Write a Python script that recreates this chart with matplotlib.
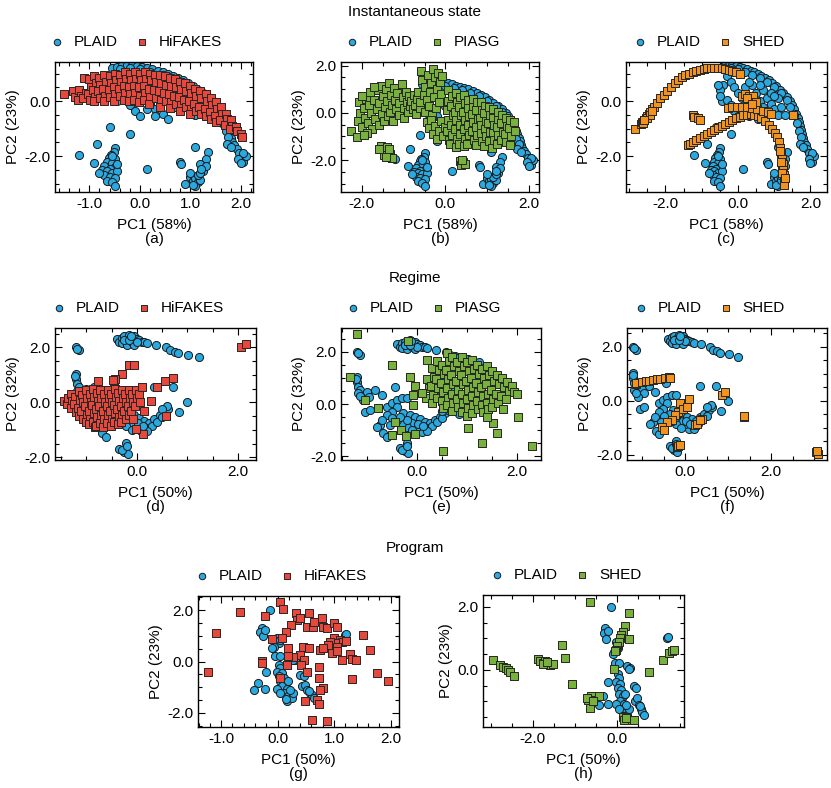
import numpy as np
import matplotlib
matplotlib.use("Agg")
import matplotlib.pyplot as plt
from matplotlib.ticker import MultipleLocator, AutoMinorLocator, FormatStrFormatter

plt.rcParams['font.family'] = ['Liberation Sans', 'DejaVu Sans']
plt.rcParams['font.size'] = 11
plt.rcParams['axes.unicode_minus'] = False

W, H = 831, 788

# colours of the data sets
c_plaid = '#2aa8e0'
c_hifakes = '#e8473b'
c_piasg = '#78b23c'
c_shed = '#f2931d'

# ---------------- Instantaneous state (PC1 58%, PC2 23%) ----------------
plaid_inst = np.array([
    # outer arc
    (-0.55, 1.2), (-0.45, 1.25), (-0.35, 1.3), (-0.25, 1.32), (-0.15, 1.3), (-0.05, 1.28),
    (0.05, 1.25), (0.15, 1.2), (0.25, 1.15), (0.35, 1.1), (0.45, 1.05), (0.55, 1.0),
    (0.65, 0.92), (0.75, 0.85), (0.85, 0.75), (0.95, 0.65), (1.05, 0.55), (1.15, 0.42),
    (1.25, 0.3), (1.35, 0.15), (1.45, 0.0), (1.5, -0.15), (1.55, -0.3), (1.6, -0.45),
    (1.65, -0.6), (1.7, -0.75), (1.72, -0.9), (1.75, -1.05), (1.78, -1.2), (1.8, -1.35),
    (1.83, -1.5), (1.87, -1.6), (1.92, -1.75), (1.97, -1.9), (2.0, -2.05), (2.05, -2.2),
    (2.1, -2.0), (2.05, -1.9), (1.95, -2.1), (2.0, -2.25),
    # second row of the arc
    (-0.4, 1.15), (-0.2, 1.2), (0.0, 1.15), (0.2, 1.05), (0.4, 0.95), (0.6, 0.85),
    (0.8, 0.7), (1.0, 0.5), (1.2, 0.3), (1.35, 0.05), (1.45, -0.2), (1.55, -0.5),
    (1.62, -0.8), (1.7, -1.1), (1.75, -1.3), (1.72, -1.55), (1.8, -1.65),
    # inner band
    (-0.3, 0.9), (-0.2, 0.7), (-0.1, 0.5), (0.0, 0.3), (0.1, 0.1), (0.2, -0.1), (0.3, -0.3),
    (-0.4, 0.6), (-0.5, 0.4), (-0.45, 0.0), (-0.3, 0.05), (-0.2, -0.15), (-0.1, -0.35),
    (0.0, -0.55), (0.15, -0.3), (0.3, -0.55), (0.45, -0.45), (0.55, -0.65), (0.4, -0.2),
    (0.6, 0.0), (0.7, -0.2), (0.8, 0.1), (0.9, -0.1), (1.0, -0.3), (1.1, -0.5), (0.5, 0.3),
    (0.3, 0.2), (0.7, 0.4), (0.9, 0.3), (1.1, 0.1), (1.2, -0.2), (1.3, -0.5), (0.2, 0.5),
    (0.4, 0.6), (-0.55, 0.6), (-0.5, 0.2), (0.3, 0.7), (0.6, 0.6), (1.0, 0.2),
    # isolated points
    (-0.6, -0.95), (-0.2, -1.2), (-0.85, -1.55), (-1.2, -1.95), (-0.9, -2.25), (0.15, -2.45),
    (0.8, -2.2), (0.82, -2.3), (1.1, -1.65), (1.35, -1.85), (1.3, -2.1), (1.2, -2.3), (1.25, -2.55),
    # cluster near PC1 = -0.55
    (-0.5, -1.7), (-0.52, -1.85), (-0.58, -1.95), (-0.62, -2.05), (-0.5, -2.1), (-0.66, -2.2),
    (-0.55, -2.25), (-0.7, -2.35), (-0.5, -2.4), (-0.6, -2.45), (-0.75, -2.5), (-0.65, -2.55),
    (-0.55, -2.6), (-0.45, -2.55), (-0.7, -2.7), (-0.6, -2.75), (-0.5, -2.8), (-0.65, -2.9),
    (-0.55, -2.95), (-0.5, -3.1), (-0.8, -2.6), (-0.45, -2.3), (-0.55, -2.0),
    # cluster near PC1 = 1.1
    (0.9, -3.0), (1.0, -2.75), (1.05, -2.9), (1.1, -2.8), (1.15, -2.95), (1.1, -3.1),
    (1.05, -3.05), (1.2, -2.85), (1.15, -2.7), (1.2, -2.6), (1.0, -2.6), (1.3, -2.35), (1.22, -2.45),
])

hifakes_inst = np.array([
    (-1.5, 0.25), (-1.32, 0.35), (-1.28, 0.15), (-1.2, 0.4), (-1.17, 0.2), (-1.22, 0.05),
    (-1.1, 0.85), (-1.07, 0.3), (-1.12, 0.1), (-1.0, 0.8), (-0.97, 0.5), (-1.03, 0.25), (-0.99, 0.05),
    (-0.9, 0.9), (-0.87, 0.65), (-0.92, 0.4), (-0.88, 0.15), (-0.91, 0.0),
    (-0.8, 0.85), (-0.78, 0.6), (-0.82, 0.35), (-0.79, 0.1),
    (-0.7, 0.95), (-0.68, 0.7), (-0.72, 0.45), (-0.69, 0.2), (-0.71, 0.0),
    (-0.6, 0.9), (-0.58, 0.65), (-0.62, 0.4), (-0.59, 0.15),
    (-0.5, 1.0), (-0.48, 0.75), (-0.52, 0.5), (-0.49, 0.25), (-0.51, 0.0),
    (-0.4, 0.95), (-0.38, 0.7), (-0.42, 0.45), (-0.39, 0.2),
    (-0.3, 1.05), (-0.28, 0.8), (-0.32, 0.55), (-0.29, 0.3), (-0.31, 0.05),
    (-0.2, 1.0), (-0.18, 0.75), (-0.22, 0.5), (-0.19, 0.25), (-0.21, 0.0),
    (-0.1, 1.05), (-0.08, 0.8), (-0.12, 0.55), (-0.09, 0.3), (-0.11, 0.05),
    (0.0, 1.0), (0.02, 0.75), (-0.02, 0.5), (0.01, 0.2), (-0.01, -0.05),
    (0.1, 1.05), (0.12, 0.8), (0.08, 0.55), (0.11, 0.3), (0.09, 0.05),
    (0.2, 1.0), (0.22, 0.75), (0.18, 0.45), (0.21, 0.15), (0.19, -0.1),
    (0.3, 0.95), (0.32, 0.7), (0.28, 0.4), (0.31, 0.1),
    (0.4, 0.95), (0.42, 0.65), (0.38, 0.35), (0.41, 0.05), (0.39, -0.2),
    (0.5, 0.9), (0.52, 0.6), (0.48, 0.3), (0.51, 0.0),
    (0.6, 0.85), (0.62, 0.55), (0.58, 0.25), (0.61, -0.05), (0.59, -0.25),
    (0.7, 0.8), (0.72, 0.5), (0.68, 0.2), (0.71, -0.1),
    (0.8, 0.7), (0.82, 0.45), (0.78, 0.15), (0.81, -0.15), (0.79, -0.35),
    (0.9, 0.65), (0.92, 0.35), (0.88, 0.05), (0.91, -0.2),
    (1.0, 0.55), (1.02, 0.3), (0.98, 0.0), (1.01, -0.3), (0.99, -0.45),
    (1.1, 0.45), (1.12, 0.2), (1.08, -0.1), (1.11, -0.35),
    (1.2, 0.35), (1.22, 0.1), (1.18, -0.2), (1.21, -0.45),
    (1.3, 0.25), (1.32, 0.0), (1.28, -0.3), (1.31, -0.55),
    (1.4, 0.1), (1.42, -0.15), (1.38, -0.4), (1.41, -0.65),
    (1.5, -0.05), (1.52, -0.3), (1.48, -0.55), (1.51, -0.75),
    (1.6, -0.2), (1.62, -0.45), (1.58, -0.7),
    (1.7, -0.45), (1.72, -0.65), (1.68, -0.85),
    (1.8, -0.7), (1.82, -0.9), (1.78, -1.0),
    (1.9, -0.95), (1.92, -1.1), (2.0, -1.2), (2.02, -1.3),
])

piasg_inst = np.array([
    # left lobe
    (-2.27, -0.75), (-2.12, -1.04), (-2.1, -0.35), (-2.05, 0.0), (-2.08, 0.45), (-2.0, -0.6),
    (-1.95, 0.2), (-1.92, -0.2), (-1.9, 0.6), (-1.85, -0.45), (-1.82, 0.35), (-1.8, 0.9),
    (-1.78, 0.0), (-1.75, -0.7), (-1.7, 0.55), (-1.68, -0.25), (-1.65, 0.15), (-1.62, 0.95),
    (-1.6, -0.5), (-1.58, 0.4), (-1.55, 1.15), (-1.52, -0.05), (-1.5, 0.7), (-1.48, -0.35),
    (-1.45, 0.25), (-1.42, 1.0), (-1.4, 0.5), (-1.38, -0.15), (-1.35, 1.25), (-1.33, 0.05),
    (-1.3, 0.75), (-1.28, 0.35), (-1.25, -0.35), (-1.22, 1.05), (-1.2, 0.55), (-1.18, 0.15),
    (-1.15, 0.85), (-1.12, -0.1), (-1.1, 0.4), (-1.05, 1.2), (-1.02, 0.65), (-1.0, 0.2),
    (-0.98, -0.2), (-0.95, 0.9), (-0.92, 0.45), (-0.9, 0.05), (-0.88, 0.7), (-0.85, 0.3),
    (-2.0, 0.7), (-1.88, -0.85), (-1.72, 1.1), (-1.95, -0.95),
    # middle and central peak
    (-0.82, 0.5), (-0.78, 0.15), (-0.75, 0.75), (-0.72, 0.35), (-0.7, -0.05), (-0.68, 0.6),
    (-0.65, 0.9), (-0.62, 0.2), (-0.6, 0.45), (-0.58, 1.75), (-0.55, 1.4), (-0.52, 0.75),
    (-0.5, 0.05), (-0.48, 1.1), (-0.45, 0.55), (-0.42, 1.6), (-0.4, 0.3), (-0.38, 0.9),
    (-0.35, 1.25), (-0.32, -0.1), (-0.3, 1.85), (-0.28, 0.65), (-0.25, 1.5), (-0.22, 0.2),
    (-0.2, 1.0), (-0.18, 1.7), (-0.15, 0.45), (-0.12, 1.3), (-0.1, 0.8), (-0.08, 1.55),
    (-0.45, -0.4), (-0.4, -0.65), (-0.35, -0.3), (-0.3, -0.9), (-0.25, -0.55), (-0.2, -1.1),
    (-0.15, -0.75), (-0.1, -0.35), (-0.05, -1.0), (0.0, -0.6),
    # right mass
    (0.05, 0.95), (0.07, 0.5), (0.03, 0.1), (0.06, -0.3), (0.04, -0.75), (0.08, -1.15),
    (0.15, 0.7), (0.13, 0.3), (0.17, -0.1), (0.14, -0.5), (0.16, -0.95), (0.12, -1.3),
    (0.25, 0.85), (0.27, 0.45), (0.23, 0.05), (0.26, -0.3), (0.24, -0.7), (0.28, -1.1), (0.25, -1.45),
    (0.35, 0.65), (0.33, 0.25), (0.37, -0.1), (0.34, -0.5), (0.36, -0.9), (0.32, -1.3),
    (0.45, 0.75), (0.47, 0.4), (0.43, 0.05), (0.46, -0.3), (0.44, -0.7), (0.48, -1.1), (0.45, -1.4),
    (0.55, 0.55), (0.53, 0.2), (0.57, -0.15), (0.54, -0.5), (0.56, -0.95), (0.52, -1.3),
    (0.65, 0.6), (0.67, 0.25), (0.63, -0.05), (0.66, -0.4), (0.64, -0.75), (0.68, -1.15),
    (0.75, 0.45), (0.73, 0.1), (0.77, -0.25), (0.74, -0.6), (0.76, -0.95), (0.72, -1.35),
    (0.85, 0.45), (0.87, 0.1), (0.83, -0.2), (0.86, -0.5), (0.84, -0.85), (0.88, -1.2),
    (0.95, 0.3), (0.93, 0.0), (0.97, -0.35), (0.94, -0.7), (0.96, -1.0), (0.92, -1.4),
    (1.05, 0.25), (1.07, -0.1), (1.03, -0.45), (1.06, -0.8), (1.04, -1.2),
    (1.15, 0.15), (1.13, -0.2), (1.17, -0.5), (1.14, -0.85), (1.16, -1.15), (1.12, -1.5),
    (1.25, 0.05), (1.27, -0.3), (1.23, -0.6), (1.26, -0.95), (1.24, -1.3),
    (1.35, -0.1), (1.33, -0.45), (1.37, -0.8), (1.34, -1.15),
    (1.45, -0.2), (1.47, -0.55), (1.43, -0.9), (1.46, -1.25),
    (1.55, -0.3), (1.53, -0.65), (1.57, -1.0), (1.54, -1.35),
    (1.65, -0.4), (1.67, -0.75),
    # small clusters
    (-1.55, -1.4), (-1.5, -1.55), (-1.45, -1.7), (-1.38, -1.6), (-1.32, -1.75), (-1.48, -1.8),
    (-1.4, -1.45), (-1.6, -1.55), (-1.28, -1.9), (-1.42, -1.88), (-1.35, -1.55),
    (0.35, -2.05), (0.42, -2.1), (0.38, -2.2), (0.48, -2.15), (0.4, -2.0),
])

shed_inst = np.array([
    # upper arc
    (-2.85, -1.0), (-2.68, -0.82), (-2.64, -0.75), (-2.6, -0.7), (-2.55, -0.6), (-2.5, -0.55),
    (-2.46, -0.47), (-2.42, -0.4), (-2.38, -0.3), (-2.32, -0.2), (-2.24, -0.06), (-2.14, 0.1),
    (-2.05, 0.24), (-1.95, 0.38), (-1.85, 0.52), (-1.75, 0.64), (-1.65, 0.76), (-1.55, 0.86),
    (-1.45, 0.94), (-1.35, 1.0), (-1.25, 1.05), (-1.15, 1.1), (-1.05, 1.14), (-0.95, 1.17),
    (-0.85, 1.19), (-0.75, 1.2), (-0.65, 1.21), (-0.55, 1.2), (-0.45, 1.19), (-0.35, 1.17),
    (-0.25, 1.14), (-0.15, 1.1), (-0.05, 1.05), (0.05, 0.98), (-2.62, -0.78), (-2.52, -0.62),
    (-2.44, -0.52), (-2.36, -0.36), (-2.58, -0.68),
    # small group
    (-1.24, -0.5), (-1.2, -0.58), (-1.1, -0.62), (-1.06, -0.7),
    # lower arc bending down
    (-1.38, -1.6), (-1.33, -1.55), (-1.25, -1.5), (-1.15, -1.42), (-1.05, -1.35), (-0.95, -1.28),
    (-0.85, -1.2), (-0.75, -1.12), (-0.65, -1.05), (-0.55, -0.98), (-0.45, -0.9), (-0.35, -0.82),
    (-0.25, -0.75), (-0.15, -0.68), (-0.05, -0.62), (0.05, -0.57), (0.15, -0.52), (0.25, -0.5),
    (0.35, -0.48), (0.45, -0.5), (0.55, -0.55), (0.65, -0.62), (0.75, -0.72), (0.85, -0.85),
    (0.95, -1.0), (1.02, -1.15), (1.08, -1.3), (1.13, -1.5), (1.17, -1.7), (1.2, -1.9),
    (1.22, -2.1), (1.24, -2.3), (1.25, -2.5), (1.26, -2.7), (1.27, -2.9), (1.28, -3.05),
    (1.22, -2.6), (1.2, -2.2), (1.15, -1.8), (1.3, -2.8),
    # row and upper group
    (-0.28, -0.25), (-0.15, -0.22), (-0.02, -0.2), (0.12, -0.2), (0.26, -0.22), (0.4, -0.25),
    (0.54, -0.3), (0.68, -0.35), (0.82, -0.4), (0.92, -0.45),
    (0.1, 0.2), (0.2, 0.25), (0.3, 0.2), (0.42, 0.2), (0.26, 0.1),
    (1.52, -0.5), (0.5, -0.05), (0.38, -0.1),
])

# ---------------- Regime (PC1 50%, PC2 32%) ----------------
plaid_reg = np.array([
    (-0.4, 2.3), (-0.35, 2.2), (-0.3, 2.35), (-0.25, 2.4), (-0.2, 2.3), (-0.15, 2.45),
    (-0.1, 2.35), (-0.05, 2.4), (0.0, 2.3), (0.05, 2.25), (0.1, 2.2), (0.15, 2.18),
    (-0.3, 2.15), (-0.2, 2.1), (-0.1, 2.2), (-0.05, 2.1), (0.0, 2.2), (-0.25, 2.25),
    (-0.15, 2.25), (-0.12, 2.42), (0.2, 2.15),
    (0.38, 2.09), (0.58, 2.0), (0.65, 1.9), (0.75, 1.84), (0.81, 1.78), (1.01, 1.72), (1.23, 1.63),
    (-1.2, 2.0), (-1.15, 1.9), (-1.18, 1.95),
    (-1.2, 1.04), (-1.21, 0.86), (-1.19, 0.67), (-1.15, 0.54), (-1.18, 0.41), (-1.11, 0.28),
    (-1.01, 0.47), (-0.96, 0.28), (-0.85, 0.54), (-0.71, 0.34), (-1.05, -0.29), (-0.95, -0.23),
    (-1.09, 0.15), (-1.15, 0.3), (-1.22, 0.95), (-0.45, 0.65),
    (-0.61, -0.1), (-0.51, 0.03), (-0.41, 0.15), (-0.31, 0.22), (-0.21, 0.22), (-0.41, -0.1),
    (-0.51, -0.29), (-0.61, -0.42), (-0.75, -0.8), (-0.81, -0.87), (-0.68, -1.12), (-0.61, -1.25),
    (-0.28, -0.36), (-0.15, -0.42), (-0.05, -0.48), (0.05, -0.59), (0.15, -0.68), (0.25, -0.74),
    (0.35, -0.61), (0.45, -0.48), (0.55, -0.36), (0.62, -0.23), (0.19, -0.93), (0.09, -1.06),
    (-0.01, -0.87), (-0.11, -0.74), (-0.21, -0.87), (-0.31, -0.74), (-0.41, -0.61), (-0.21, -0.61),
    (0.3, -0.85), (0.4, -0.7), (0.5, -0.55), (0.02, -0.75), (-0.1, -1.0), (0.2, -1.05),
    (0.12, -0.85), (-0.35, -0.5), (-0.5, -0.55), (-0.7, -0.6), (-0.55, -0.8), (0.6, -0.15), (0.5, -0.25),
    (0.35, 0.55), (0.71, 0.55), (0.84, -0.37), (0.99, 0.0),
    (-0.21, -1.48), (-0.35, -1.69), (-0.25, -1.82), (-0.18, -1.89), (-0.3, -1.75), (-0.2, -1.6),
])

hifakes_reg = np.array([
    (-1.45, 0.05), (-1.38, -0.05), (-1.36, 0.15),
    (-1.3, 0.3), (-1.28, 0.05), (-1.31, -0.2),
    (-1.22, 0.2), (-1.24, -0.05), (-1.21, -0.35),
    (-1.15, 0.4), (-1.13, 0.1), (-1.17, -0.2), (-1.14, -0.5),
    (-1.08, 0.25), (-1.06, 0.0), (-1.1, -0.3), (-1.07, -0.6),
    (-1.0, 0.45), (-0.98, 0.15), (-1.02, -0.15), (-0.99, -0.45), (-1.01, -0.7),
    (-0.93, 0.3), (-0.91, 0.0), (-0.95, -0.3), (-0.92, -0.6), (-0.94, -0.8),
    (-0.86, 0.5), (-0.84, 0.2), (-0.88, -0.1), (-0.85, -0.4), (-0.87, -0.7), (-0.83, -0.9),
    (-0.79, 0.35), (-0.77, 0.05), (-0.81, -0.25), (-0.78, -0.55), (-0.8, -0.85),
    (-0.72, 0.45), (-0.7, 0.15), (-0.74, -0.15), (-0.71, -0.45), (-0.73, -0.75),
    (-0.65, 0.3), (-0.63, 0.0), (-0.67, -0.3), (-0.64, -0.6), (-0.66, -0.9),
    (-0.58, 0.45), (-0.56, 0.15), (-0.6, -0.15), (-0.57, -0.45), (-0.59, -0.75),
    (-0.51, 0.3), (-0.49, 0.0), (-0.53, -0.3), (-0.5, -0.6), (-0.52, -0.85),
    (-0.44, 0.5), (-0.42, 0.2), (-0.46, -0.1), (-0.43, -0.4), (-0.45, -0.7),
    (-0.37, 0.35), (-0.35, 0.05), (-0.39, -0.25), (-0.36, -0.55), (-0.38, -0.8),
    (-0.3, 0.45), (-0.28, 0.15), (-0.32, -0.15), (-0.29, -0.45), (-0.31, -0.7),
    (-0.23, 0.3), (-0.21, 0.0), (-0.25, -0.3), (-0.22, -0.6),
    (-0.16, 0.45), (-0.14, 0.15), (-0.18, -0.15), (-0.15, -0.45),
    (-0.09, 0.3), (-0.07, 0.0), (-0.11, -0.3), (-0.08, -0.6),
    (-0.02, 0.45), (0.0, 0.15), (-0.04, -0.15), (0.05, 0.3), (0.07, 0.0), (0.1, 0.55),
    # scattered squares
    (-0.15, 1.35), (-0.05, 1.35), (-0.29, 1.02), (-0.44, 0.86), (-0.48, 0.8), (-0.76, 0.77),
    (0.55, 0.77), (0.71, 0.89), (0.4, 0.55), (0.28, 0.06), (0.15, -0.31), (0.58, -0.49),
    (0.13, -1.17), (-0.01, -0.98), (2.07, 2.02), (2.16, 2.12),
])

piasg_reg = np.array([
    (0.2, 0.95), (0.23, 0.6), (0.18, 0.25),
    (0.3, 1.4), (0.33, 1.05), (0.28, 0.7), (0.31, 0.35), (0.29, 0.05),
    (0.4, 1.65), (0.43, 1.3), (0.38, 0.95), (0.41, 0.6), (0.39, 0.25),
    (0.5, 1.5), (0.53, 1.15), (0.48, 0.8), (0.51, 0.45), (0.49, 0.1), (0.52, -0.15),
    (0.6, 1.95), (0.63, 1.65), (0.58, 1.3), (0.61, 0.95), (0.59, 0.6), (0.62, 0.25), (0.6, -0.05),
    (0.7, 1.8), (0.73, 1.45), (0.68, 1.1), (0.71, 0.75), (0.69, 0.4), (0.72, 0.05), (0.7, -0.25),
    (0.8, 1.6), (0.83, 1.25), (0.78, 0.9), (0.81, 0.55), (0.79, 0.2), (0.82, -0.1),
    (0.9, 1.8), (0.93, 1.45), (0.88, 1.1), (0.91, 0.75), (0.89, 0.4), (0.92, 0.05), (0.9, -0.3),
    (1.0, 1.6), (1.03, 1.25), (0.98, 0.9), (1.01, 0.55), (0.99, 0.2), (1.02, -0.15), (1.0, -0.45),
    (1.1, 1.7), (1.13, 1.35), (1.08, 1.0), (1.11, 0.65), (1.09, 0.3), (1.12, -0.05), (1.1, -0.35),
    (1.2, 1.5), (1.23, 1.15), (1.18, 0.8), (1.21, 0.45), (1.19, 0.1), (1.22, -0.2),
    (1.3, 1.35), (1.33, 1.0), (1.28, 0.65), (1.31, 0.3), (1.29, -0.05), (1.32, -0.3),
    (1.4, 1.45), (1.43, 1.1), (1.38, 0.75), (1.41, 0.4), (1.39, 0.05), (1.42, -0.2),
    (1.5, 1.25), (1.53, 0.9), (1.48, 0.55), (1.51, 0.2), (1.49, -0.1),
    (1.6, 1.1), (1.63, 0.75), (1.58, 0.4), (1.61, 0.05),
    (1.7, 1.0), (1.73, 0.65), (1.68, 0.3),
    (1.8, 0.85), (1.83, 0.5), (1.78, 0.2),
    (1.9, 0.7), (1.93, 0.45), (2.0, 0.4),
    # scattered squares
    (-1.21, 2.68), (-1.35, 1.04), (-0.51, 1.49), (-0.15, 1.04), (-0.05, 0.69), (-0.08, 0.34),
    (0.09, 0.41), (-0.78, -0.17), (-1.05, 0.15), (-0.45, -0.68), (-0.51, -1.18), (-0.33, -0.99),
    (-0.23, -1.22), (-0.05, -1.16), (-0.09, -0.04), (0.19, 1.71), (-0.18, 2.41), (0.51, -1.82),
    (1.29, -1.48), (1.59, -1.12), (1.52, -0.71), (1.39, -0.48), (2.01, -0.48), (2.29, -1.63),
    (1.02, -0.93), (1.72, -0.2),
])

shed_reg = np.array([
    (-1.15, 0.62), (-1.13, 0.66), (-1.0, 0.7), (-0.9, 0.73), (-0.85, 0.75), (-0.75, 0.77),
    (-0.65, 0.8), (-0.58, 0.81), (-0.47, 0.84), (-0.38, 0.87), (-0.35, 0.86),
    (-0.08, -0.22), (0.0, -0.1), (0.08, 0.05), (-0.16, -0.41), (-0.23, -0.54), (-0.31, -0.73),
    (-0.43, -0.79), (-0.54, -0.98), (-0.5, -1.1), (-0.12, -0.1), (-0.04, -0.3), (0.04, -0.22),
    (0.23, -0.91), (0.27, -0.85), (0.39, -0.66), (0.35, -0.72),
    (-0.19, -1.73), (-0.16, -1.68), (-0.12, -1.63),
    (0.85, 0.21), (0.93, 0.34), (1.36, -0.6), (1.36, -0.55),
    (3.05, -1.91), (3.1, -1.98), (3.07, -1.88),
])

# ---------------- Program (PC1 50%, PC2 23%) ----------------
plaid_prog = np.array([
    (-0.14, 2.0), (-0.28, 1.32), (-0.31, 1.16), (-0.25, 0.99), (-0.22, 1.23),
    (-0.01, 0.9), (0.02, 0.71), (-0.07, 0.58), (-0.1, 0.52), (0.04, 0.85),
    (-0.04, 0.22), (0.05, 0.22), (0.25, 0.13), (0.31, 0.06), (0.28, 0.04),
    (-0.2, -0.39), (-0.34, -0.84), (-0.42, -1.1), (-0.22, -1.07),
    (0.02, -0.13), (0.05, -0.26), (-0.01, -0.39), (0.08, -0.45), (0.02, -0.58), (0.11, -0.65),
    (0.05, -0.77), (0.14, -0.84), (0.08, -0.97), (0.16, -1.07), (0.11, -1.23), (0.19, -1.35),
    (0.16, -1.55), (0.25, -1.42), (0.28, -1.23), (0.22, -1.1), (0.19, -0.77), (-0.01, -1.07),
    (0.05, -1.23), (0.14, -1.45),
    (0.4, -0.52), (0.46, -0.58), (0.43, -0.97), (0.49, -0.9), (0.52, -1.1), (0.58, -1.23),
    (0.61, -1.32), (0.64, -1.42), (0.55, -1.15),
    (1.19, 1.03), (1.21, 1.06),
])

hifakes_prog = np.array([
    (0.04, 2.32), (0.09, 2.06), (-0.66, 1.94), (-0.22, 1.77), (0.33, 1.9), (0.56, 1.9),
    (0.35, 1.61), (0.4, 1.71), (0.52, 1.35), (0.62, 1.35), (0.65, 1.55), (0.78, 1.68),
    (0.81, 1.33), (0.87, 1.29), (0.99, 1.48), (1.05, 1.35), (0.24, 1.42), (0.15, 1.16),
    (-1.1, 1.1), (-0.1, 0.86), (0.08, 0.9), (0.99, 0.9), (1.11, 0.84), (1.14, 0.77),
    (1.02, 0.71), (0.93, 0.74), (0.9, 0.65), (1.05, 0.58), (0.96, 0.32), (1.05, 0.39),
    (1.21, 0.8), (1.52, 1.03), (1.64, 0.45), (1.28, 0.3), (1.31, 0.09), (1.39, 0.06),
    (1.14, 0.04), (0.19, 0.52), (0.45, 0.55), (0.55, 0.54), (0.75, 0.43), (0.8, 0.52),
    (0.4, 0.26), (0.27, 0.19), (0.18, 0.22), (0.46, 0.06), (-0.28, 0.03), (-0.28, -0.06),
    (0.16, -0.13), (0.41, -0.13), (0.74, -0.22), (0.52, -0.41), (0.05, -0.65), (0.73, -0.65),
    (0.8, -1.03), (0.75, -1.1), (1.31, -0.68), (1.76, -0.45), (1.96, -0.74), (-1.24, -0.39),
    (0.48, -1.55), (0.69, -1.51), (0.73, -1.64), (0.61, -2.26), (0.87, -2.32),
])

shed_prog = np.array([
    (-0.65, 2.16), (0.3, 1.81), (0.2, 1.39), (0.14, 1.21), (0.1, 1.1), (0.08, 1.0),
    (0.05, 0.89), (0.0, 0.76), (-0.03, 0.65), (-0.05, 0.6), (0.28, 0.97), (-1.31, 0.79),
    (-1.24, 0.37), (-0.06, 0.02), (-1.06, -0.45), (0.77, -0.08), (1.1, 0.32), (1.24, 0.53),
    (1.32, 0.6), (1.36, 0.65),
    (-2.94, 0.32), (-2.79, 0.16), (-2.72, 0.1), (-2.65, 0.05), (-2.6, 0.0), (-2.54, -0.08), (-2.46, -0.18),
    (-1.87, 0.34), (-1.83, 0.29), (-1.75, 0.23), (-1.71, 0.29), (-1.67, 0.21), (-1.59, 0.16),
    (-1.53, 0.19), (-1.77, 0.18), (-1.66, 0.26),
    (-0.69, -0.95), (-0.61, -0.84), (-0.57, -0.95), (-0.65, -1.21), (-0.43, -0.82),
    (-0.72, -0.9), (-0.58, -1.0),
    (0.14, -1.49), (0.26, -1.58), (0.34, -1.6), (0.18, -1.58), (0.22, -1.53), (0.42, -1.6),
])

fig = plt.figure(figsize=(W / 100, H / 100), dpi=100)

ax_ylabel = {'(a)': 'PC2 (23%)', '(b)': 'PC2 (23%)', '(c)': 'PC2 (23%)',
             '(d)': 'PC2 (32%)', '(e)': 'PC2 (32%)', '(f)': 'PC2 (32%)',
             '(g)': 'PC2 (23%)', '(h)': 'PC2 (23%)'}


def panel(box, plaid, other, other_label, other_color, xlabel, tag,
          xlim, ylim, xmajor):
    x0, x1, y0, y1 = box
    ax = fig.add_axes([x0 / W, 1 - y1 / H, (x1 - x0) / W, (y1 - y0) / H])
    ax.scatter(plaid[:, 0], plaid[:, 1], s=34, marker='o', c=c_plaid,
               edgecolors='#1a1a1a', linewidths=0.7, zorder=2, label='PLAID')
    ax.scatter(other[:, 0], other[:, 1], s=32, marker='s', c=other_color,
               edgecolors='#262626', linewidths=0.7, zorder=3, label=other_label)
    ax.set_xlim(*xlim)
    ax.set_ylim(*ylim)
    ax.xaxis.set_major_locator(MultipleLocator(xmajor))
    ax.xaxis.set_minor_locator(AutoMinorLocator())
    ax.yaxis.set_major_locator(MultipleLocator(2.0))
    ax.yaxis.set_minor_locator(AutoMinorLocator())
    ax.xaxis.set_major_formatter(FormatStrFormatter('%.1f'))
    ax.yaxis.set_major_formatter(FormatStrFormatter('%.1f'))
    ax.tick_params(which='both', direction='in', top=True, right=True, labelsize=11)
    ax.tick_params(which='major', length=5, width=0.8)
    ax.tick_params(which='minor', length=3, width=0.8)
    for sp in ax.spines.values():
        sp.set_linewidth(1.0)
    ax.set_xlabel(xlabel + '\n' + tag, fontsize=11, labelpad=5, linespacing=1.05)
    ax.set_ylabel(ax_ylabel[tag], fontsize=11, labelpad=3)
    # legend sits a little left of the axes centre, as in the original
    leg_x = 0.5 - 18 / (x1 - x0)
    leg_y = 1 + 20 / (y1 - y0)
    ax.legend(loc='center', bbox_to_anchor=(leg_x, leg_y), ncol=2, frameon=False,
              fontsize=11, handlelength=1.0, handletextpad=0.6, columnspacing=1.1,
              markerscale=0.8, borderaxespad=0)
    return ax


panel((55, 253, 62, 192), plaid_inst, hifakes_inst, 'HiFAKES', c_hifakes,
      'PC1 (58%)', '(a)', (-1.68, 2.24), (-3.3, 1.42), 1.0)
panel((341, 539, 62, 192), plaid_inst, piasg_inst, 'PIASG', c_piasg,
      'PC1 (58%)', '(b)', (-2.5, 2.24), (-3.35, 2.15), 2.0)
panel((626, 827, 62, 192), plaid_inst, shed_inst, 'SHED', c_shed,
      'PC1 (58%)', '(c)', (-3.09, 2.46), (-3.3, 1.42), 2.0)

panel((55, 256, 328, 460), plaid_reg, hifakes_reg, 'HiFAKES', c_hifakes,
      'PC1 (50%)', '(d)', (-1.62, 2.36), (-2.1, 2.7), 2.0)
panel((341, 541, 328, 460), plaid_reg, piasg_reg, 'PIASG', c_piasg,
      'PC1 (50%)', '(e)', (-1.52, 2.48), (-2.15, 2.92), 2.0)
panel((627, 827, 328, 460), plaid_reg, shed_reg, 'SHED', c_shed,
      'PC1 (50%)', '(f)', (-1.35, 3.3), (-2.2, 2.7), 2.0)

panel((198, 399, 596, 727), plaid_prog, hifakes_prog, 'HiFAKES', c_hifakes,
      'PC1 (50%)', '(g)', (-1.41, 2.15), (-2.55, 2.55), 1.0)
panel((483, 684, 595, 727), plaid_prog, shed_prog, 'SHED', c_piasg,
      'PC1 (50%)', '(h)', (-3.19, 1.6), (-1.81, 2.38), 2.0)

fig.text(415 / W, 1 - 12 / H, 'Instantaneous state', ha='center', va='center', fontsize=11)
fig.text(415 / W, 1 - 278 / H, 'Regime', ha='center', va='center', fontsize=11)
fig.text(415 / W, 1 - 548 / H, 'Program', ha='center', va='center', fontsize=11)

fig.savefig('out.png', dpi=100)
